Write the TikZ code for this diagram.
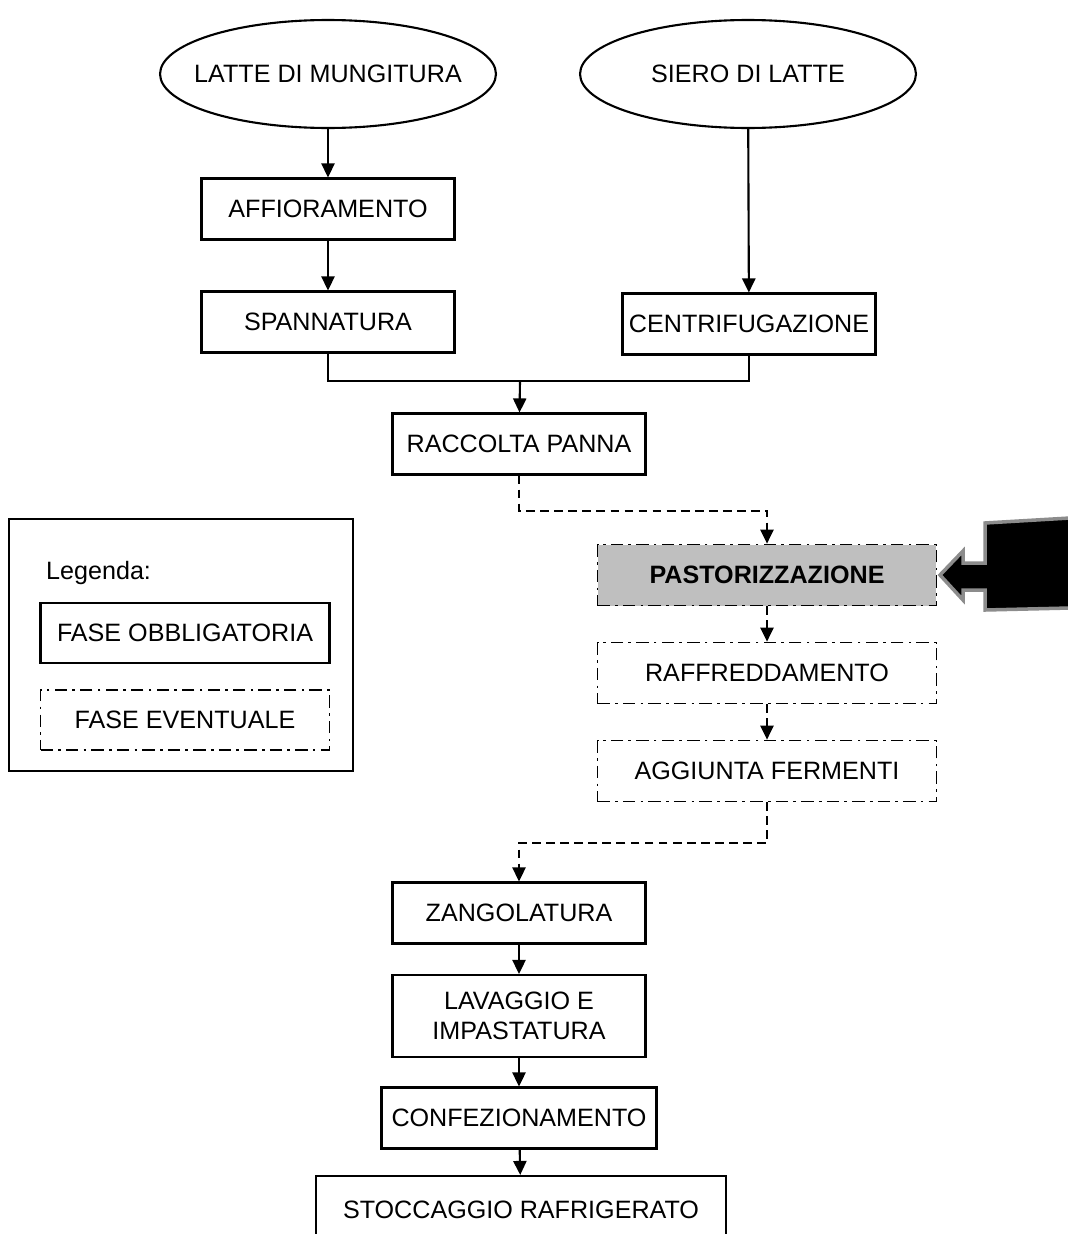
\documentclass[tikz,border=0pt]{standalone}
\usepackage{fontspec}
\setmainfont{Liberation Sans}
\usetikzlibrary{positioning,arrows.meta,shapes.geometric}

\begin{document}
\begin{tikzpicture}[x=0.02cm,y=-0.02cm,
  every node/.style={font=\fontsize{14.3}{17}\selectfont},
  fase/.style={draw,line width=1.2pt,minimum width=5.06cm,minimum height=1.22cm,inner sep=2pt},
  eventuale/.style={fase,line width=1pt,dash pattern=on 7pt off 3pt on 1.5pt off 3pt},
  origine/.style={draw,ellipse,line width=1.2pt,inner xsep=-0.32cm,minimum width=6.72cm,minimum height=2.16cm},
  freccia/.style={-{Triangle[length=8pt,width=7.5pt]},line width=1.2pt},
  tratt/.style={freccia,dash pattern=on 5pt off 3pt}]
  \useasboundingbox (0,0) rectangle (1068,1234);
  % sorgenti
  \node[origine] (latte) at (328,74) {LATTE DI MUNGITURA};
  \node[origine] (siero) at (748,74) {SIERO DI LATTE};
  % fasi obbligatorie
  \node[fase] (affio) at (328,209) {AFFIORAMENTO};
  \node[fase] (spann) at (328,322) {SPANNATURA};
  \node[fase] (centri) at (749,324) {CENTRIFUGAZIONE};
  \node[fase] (raccolta) at (519,444) {RACCOLTA PANNA};
  % fasi eventuali
  \node[eventuale,minimum width=6.78cm,fill=black!25,font=\fontsize{14.3}{17}\selectfont\bfseries] (pastor) at (767,575) {PASTORIZZAZIONE};
  \node[eventuale,minimum width=6.78cm] (raffr) at (767,673) {RAFFREDDAMENTO};
  \node[eventuale,minimum width=6.78cm] (aggiunta) at (767,771) {AGGIUNTA FERMENTI};
  % fasi finali
  \node[fase] (zango) at (519,913) {ZANGOLATURA};
  \node[fase,minimum height=1.64cm,align=center] (lavaggio) at (519,1016) {LAVAGGIO E\\IMPASTATURA};
  \node[fase,minimum width=5.5cm] (confez) at (519,1118) {CONFEZIONAMENTO};
  \node[fase,minimum width=8.2cm,minimum height=1.36cm] (stocc) at (521,1210) {STOCCAGGIO RAFRIGERATO};
  % legenda
  \node[draw,line width=1pt,minimum width=6.88cm,minimum height=5.04cm] (legenda) at (181,645) {};
  \node[anchor=west] (legtit) at (40,573) {Legenda:};
  \node[fase,minimum width=5.78cm,minimum height=1.2cm] (legobbl) at (185,633) {FASE OBBLIGATORIA};
  \node[eventuale,minimum width=5.78cm,minimum height=1.2cm] (legeven) at (185,720) {FASE EVENTUALE};
  % collegamenti
  \draw[freccia] (latte) -- (affio);
  \draw[freccia] (affio) -- (spann);
  \draw[freccia] (siero) -- (centri);
  \coordinate (giunz) at (520,381);
  \draw[line width=1.2pt] (spann.south) |- (giunz) -| (centri.south);
  \draw[freccia] (giunz) -- (raccolta);
  \draw[tratt] (raccolta.south) -- ++(0,35) -| (pastor.north);
  \draw[tratt] (pastor) -- (raffr);
  \draw[tratt] (raffr) -- (aggiunta);
  \draw[tratt] (aggiunta.south) -- ++(0,41) -| (zango.north);
  \draw[freccia] (zango) -- (lavaggio);
  \draw[freccia] (lavaggio) -- (confez);
  \draw[freccia] (confez) -- (stocc);
  % freccia grande
  \filldraw[fill=black,draw=black!45,line width=2pt]
    (940,575) -- (963,551) -- (963,563) -- (985,563) -- (985,523) -- (1070,518)
    -- (1070,608) -- (985,610) -- (985,590) -- (963,590) -- (963,600) -- cycle;
\end{tikzpicture}
\end{document}
